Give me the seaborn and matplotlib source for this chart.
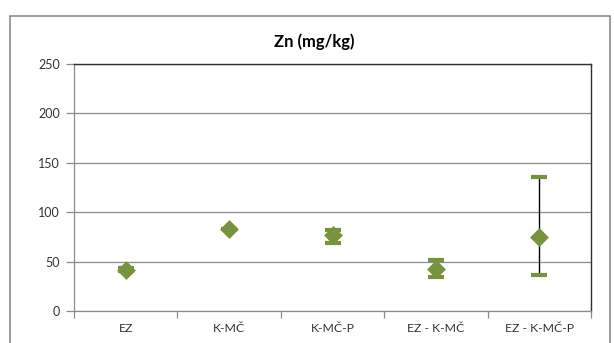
import matplotlib
matplotlib.use("Agg")
import matplotlib.pyplot as plt
from matplotlib.patches import Rectangle
import seaborn as sns
import pandas as pd

categories = ["EZ", "K-MČ", "K-MČ-P", "EZ - K-MČ", "EZ - K-MČ-P"]
means = [42, 83, 77, 43, 75]
lows = [40, 83, 69, 34, 36]
highs = [44, 83, 82, 52, 136]
y_ticks = [0, 50, 100, 150, 200, 250]
title = "Zn (mg/kg)"

green = "#77933C"
grid_grey = "#8C8C8C"

sns.set_theme(style="white")
plt.rcParams["font.family"] = ["Lato", "DejaVu Sans"]

df = pd.DataFrame({"cat": categories, "mean": means, "low": lows, "high": highs})

fig = plt.figure(figsize=(6.14, 3.43), dpi=100)
fig.patch.set_facecolor("white")
# outer chart frame
fig.add_artist(Rectangle((10 / 614, -0.05), 600 / 614, 1.05 - 16 / 343,
                         transform=fig.transFigure, fill=False,
                         edgecolor="#8C8C8C", linewidth=1.2))

ax = fig.add_axes([74 / 614, 1 - 311 / 343, 517 / 614, 247 / 343])

pos = list(range(len(categories)))
err_lo = [m - l for m, l in zip(df["mean"], df["low"])]
err_hi = [h - m for m, h in zip(df["mean"], df["high"])]
eb = ax.errorbar(pos, df["mean"], yerr=[err_lo, err_hi], fmt="none",
                 ecolor="black", elinewidth=1.0, capsize=5.5, capthick=3,
                 zorder=3)
for cap in eb[1]:
    cap.set_markeredgecolor(green)
    cap.set_markerfacecolor(green)

sns.scatterplot(data=df, x="cat", y="mean", marker="D", s=82, color=green,
                edgecolor=green, linewidth=0.5, ax=ax, zorder=4, legend=False)

ax.set_xlim(-0.5, len(categories) - 0.5)
ax.set_ylim(0, 250)
ax.set_yticks(y_ticks)
ax.set_xticks(pos)
ax.set_xticklabels(categories)
ax.set_xticks([p - 0.5 for p in pos] + [len(categories) - 0.5], minor=True)
ax.set_xlabel("")
ax.set_ylabel("")
ax.yaxis.grid(True, color=grid_grey, linewidth=0.9)
ax.set_axisbelow(True)

ax.tick_params(axis="x", which="major", length=0, pad=9, labelsize=8.8,
               labelcolor="#333333")
ax.tick_params(axis="x", which="minor", length=5, width=0.9, color=grid_grey,
               direction="out", bottom=True)
ax.tick_params(axis="y", length=6, width=0.9, color=grid_grey, direction="out",
               left=True, pad=4, labelsize=9, labelcolor="#333333")

for side in ["left", "bottom"]:
    ax.spines[side].set_color(grid_grey)
    ax.spines[side].set_linewidth(0.9)
for side in ["top", "right"]:
    ax.spines[side].set_visible(True)
    ax.spines[side].set_color("#303030")
    ax.spines[side].set_linewidth(1.0)

fig.text(314 / 614, 1 - 42 / 343, title, ha="center", va="center",
         fontsize=12, fontweight="bold", color="black")

fig.savefig("out.png", dpi=100)
